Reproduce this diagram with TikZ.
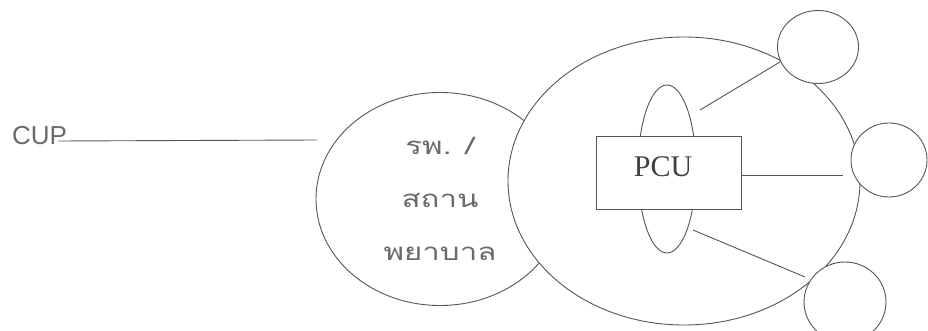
\documentclass[tikz,border=0pt]{standalone}
\usepackage{fontspec}
\setmainfont{Liberation Serif}
\newfontfamily\cupfont{Liberation Sans}
\newfontfamily\thaifont[Script=Thai, FakeStretch=1.3]{Loma}
\usetikzlibrary{shapes.geometric}
\definecolor{linegray}{HTML}{555555}
\definecolor{textgray}{HTML}{6A6A6A}
\tikzset{
  outline/.style={draw=linegray, line width=0.9pt, fill=white, inner sep=0pt},
  oval/.style={outline, ellipse},
  conn/.style={draw=linegray, line width=0.9pt},
}
\begin{document}
\begin{tikzpicture}[x=1pt, y=-1pt]
\useasboundingbox (0,0) rectangle (928,331);
% CUP label
\node[anchor=base west, inner sep=0pt, text=textgray, font=\cupfont\fontsize{26}{30}\selectfont] (cup) at (12,145) {CUP};
\coordinate (cupend) at (317,140);
% hospital ellipse
\node[oval, minimum width=248pt, minimum height=213pt, text=textgray, align=center,
      font=\thaifont\fontsize{24}{53}\selectfont] (hosp) at (440,199) {รพ. /\\สถาน\\พยาบาล};
% big ellipse
\node[oval, minimum width=352pt, minimum height=288pt] (big) at (684,181) {};
% small vertical ellipse
\node[oval, minimum width=58pt, minimum height=168pt] (vert) at (667,169) {};
% PCU rectangle
\node[outline, rectangle, minimum width=145pt, minimum height=73pt] (pcu) at (668.5,172.5) {};
\node[inner sep=0pt, text=black!75, font=\fontsize{30}{34}\selectfont] (pcutext) at (663,167) {PCU};
% connectors
\draw[conn] ([xshift=-9pt, yshift=4pt]cup.base east) -- (cupend);
\coordinate (t1) at (700,110);
\coordinate (t2) at (780,62);
\coordinate (m2) at (843,175);
\coordinate (b1) at (693,230);
\coordinate (b2) at (805,277);
\draw[conn] (t1) -- (t2);
\draw[conn] (pcu.east |- m2) -- (m2);
\draw[conn] (b1) -- (b2);
% outer circles
\node[oval, minimum width=81pt, minimum height=73pt] (c1) at (818,47) {};
\node[oval, minimum width=76pt, minimum height=74pt] (c2) at (889,160) {};
\node[oval, minimum width=82pt, minimum height=80pt] (c3) at (845,302) {};
\end{tikzpicture}
\end{document}
